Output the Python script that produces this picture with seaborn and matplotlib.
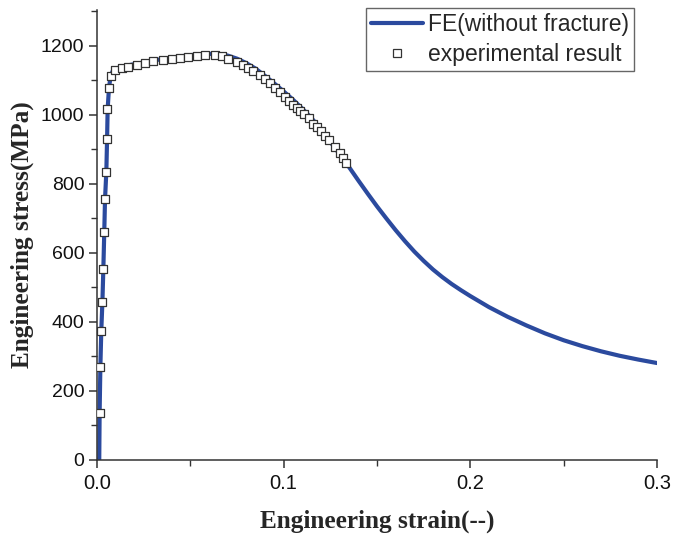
import matplotlib
matplotlib.use("Agg")
import matplotlib.pyplot as plt
import seaborn as sns
import pandas as pd
from matplotlib.ticker import MultipleLocator
from matplotlib.lines import Line2D

# FE simulation curve (without fracture)
fe_strain = [0.0, 0.0012, 0.0014, 0.0018, 0.0023, 0.0029, 0.0034, 0.0039, 0.0043, 0.0050,
             0.0054, 0.0057, 0.0064, 0.0073, 0.0085, 0.0100, 0.0130, 0.0170, 0.0210,
             0.0260, 0.0300, 0.0350, 0.0400, 0.0450, 0.0500, 0.0550, 0.0600, 0.0650,
             0.0700, 0.0750, 0.0800, 0.0850, 0.0900, 0.0950, 0.1000, 0.1050, 0.1100,
             0.1150, 0.1200, 0.1250, 0.1300, 0.1350, 0.1400, 0.1450, 0.1500, 0.1550,
             0.1600, 0.1650, 0.1700, 0.1750, 0.1800, 0.1850, 0.1900, 0.1950, 0.2000,
             0.2100, 0.2200, 0.2300, 0.2400, 0.2500, 0.2600, 0.2700, 0.2800, 0.2900, 0.3000]
fe_stress = [0, 0, 135, 269, 375, 459, 554, 662, 756, 835,
             930, 1016, 1077, 1113, 1128, 1134, 1139, 1144, 1148,
             1153, 1157, 1162, 1166, 1170, 1173, 1176, 1177, 1176,
             1172, 1163, 1150, 1134, 1113, 1091, 1068, 1044, 1018,
             990, 958, 922, 886, 849, 810, 772, 735, 700,
             666, 634, 604, 577, 552, 530, 510, 492, 475,
             443, 415, 390, 367, 347, 330, 315, 302, 291, 281]

# Experimental result
exp_strain = [0.0014, 0.0018, 0.0023, 0.0029, 0.0034, 0.0039, 0.0043, 0.0050, 0.0053, 0.0055,
              0.0064, 0.0073, 0.0096, 0.0132, 0.0168, 0.0213, 0.0257, 0.0302, 0.0355, 0.0400,
              0.0445, 0.0489, 0.0534, 0.0579, 0.0632, 0.0670, 0.0703, 0.0748, 0.0784, 0.0811,
              0.0837, 0.0873, 0.0900, 0.0927, 0.0954, 0.0980, 0.1007, 0.1030, 0.1050, 0.1070,
              0.1090, 0.1110, 0.1135, 0.1159, 0.1180, 0.1200, 0.1220, 0.1245, 0.1275, 0.1302,
              0.1320, 0.1335]
exp_stress = [135, 269, 375, 459, 554, 662, 756, 835, 930, 1016,
              1077, 1113, 1130, 1135, 1140, 1145, 1150, 1155, 1159, 1161,
              1166, 1169, 1172, 1174, 1174, 1171, 1162, 1152, 1145, 1135,
              1126, 1116, 1104, 1092, 1078, 1065, 1052, 1040, 1030, 1020,
              1012, 1003, 990, 974, 964, 952, 940, 928, 906, 891,
              874, 860]

x_ticks = [0.0, 0.1, 0.2, 0.3]
x_ticklabels = ["0.0", "0.1", "0.2", "0.3"]
y_ticks = [0, 200, 400, 600, 800, 1000, 1200]
legend_labels = ["FE(without fracture)", "experimental result"]
x_label = "Engineering strain(--)"
y_label = "Engineering stress(MPa)"

sns.set_theme(style="ticks")
plt.rcParams['font.family'] = ['Liberation Sans', 'DejaVu Sans']

fe_df = pd.DataFrame({"strain": fe_strain, "stress": fe_stress})
exp_df = pd.DataFrame({"strain": exp_strain, "stress": exp_stress})

fig = plt.figure(figsize=(6.86, 5.36), dpi=100)
ax = fig.add_axes([97/686, 1 - 460/536, 560/686, 450/536])

line_color = "#2b4a9e"
sns.lineplot(data=fe_df, x="strain", y="stress", ax=ax, sort=False, estimator=None,
             color=line_color, linewidth=3.0, zorder=2)
sns.scatterplot(data=exp_df, x="strain", y="stress", ax=ax, marker="s", s=40,
                facecolor="white", edgecolor="#333333", linewidth=0.9, zorder=3)

ax.set_xlim(0, 0.3)
ax.set_ylim(0, 1304)
ax.set_xticks(x_ticks)
ax.set_xticklabels(x_ticklabels)
ax.set_yticks(y_ticks)
ax.xaxis.set_minor_locator(MultipleLocator(0.05))
ax.yaxis.set_minor_locator(MultipleLocator(100))
ax.tick_params(axis="both", which="major", direction="out", length=6, width=1.1,
               color="#333333", labelcolor="#111111", pad=3)
ax.tick_params(axis="x", which="major", labelsize=14.5, pad=4)
ax.tick_params(axis="y", which="major", labelsize=14)
ax.tick_params(axis="both", which="minor", direction="out", length=4, width=1.0, color="#333333")
for side in ["top", "right"]:
    ax.spines[side].set_visible(False)
for side in ["left", "bottom"]:
    ax.spines[side].set_color("#333333")
    ax.spines[side].set_linewidth(1.1)

ax.set_xlabel(x_label, fontfamily="Liberation Serif", fontweight="bold", fontsize=18.2, labelpad=12)
ax.set_ylabel(y_label, fontfamily="Liberation Serif", fontweight="bold", fontsize=18.2, labelpad=5)

handles = [Line2D([0], [0], color=line_color, linewidth=3.0),
           Line2D([0], [0], marker="s", linestyle="none", markersize=5.5,
                  markerfacecolor="white", markeredgecolor="#333333", markeredgewidth=0.9)]
leg = ax.legend(handles, legend_labels, loc="upper right",
                bbox_to_anchor=(634/686, 1 - 8/536), bbox_transform=fig.transFigure,
                fontsize=16.5, frameon=True, fancybox=False, framealpha=1,
                borderaxespad=0, handlelength=2.3, handletextpad=0.2,
                borderpad=0.22, labelspacing=0.3)
leg.get_frame().set_edgecolor("#666666")
leg.get_frame().set_linewidth(1.0)

fig.savefig("out.png", dpi=100)
